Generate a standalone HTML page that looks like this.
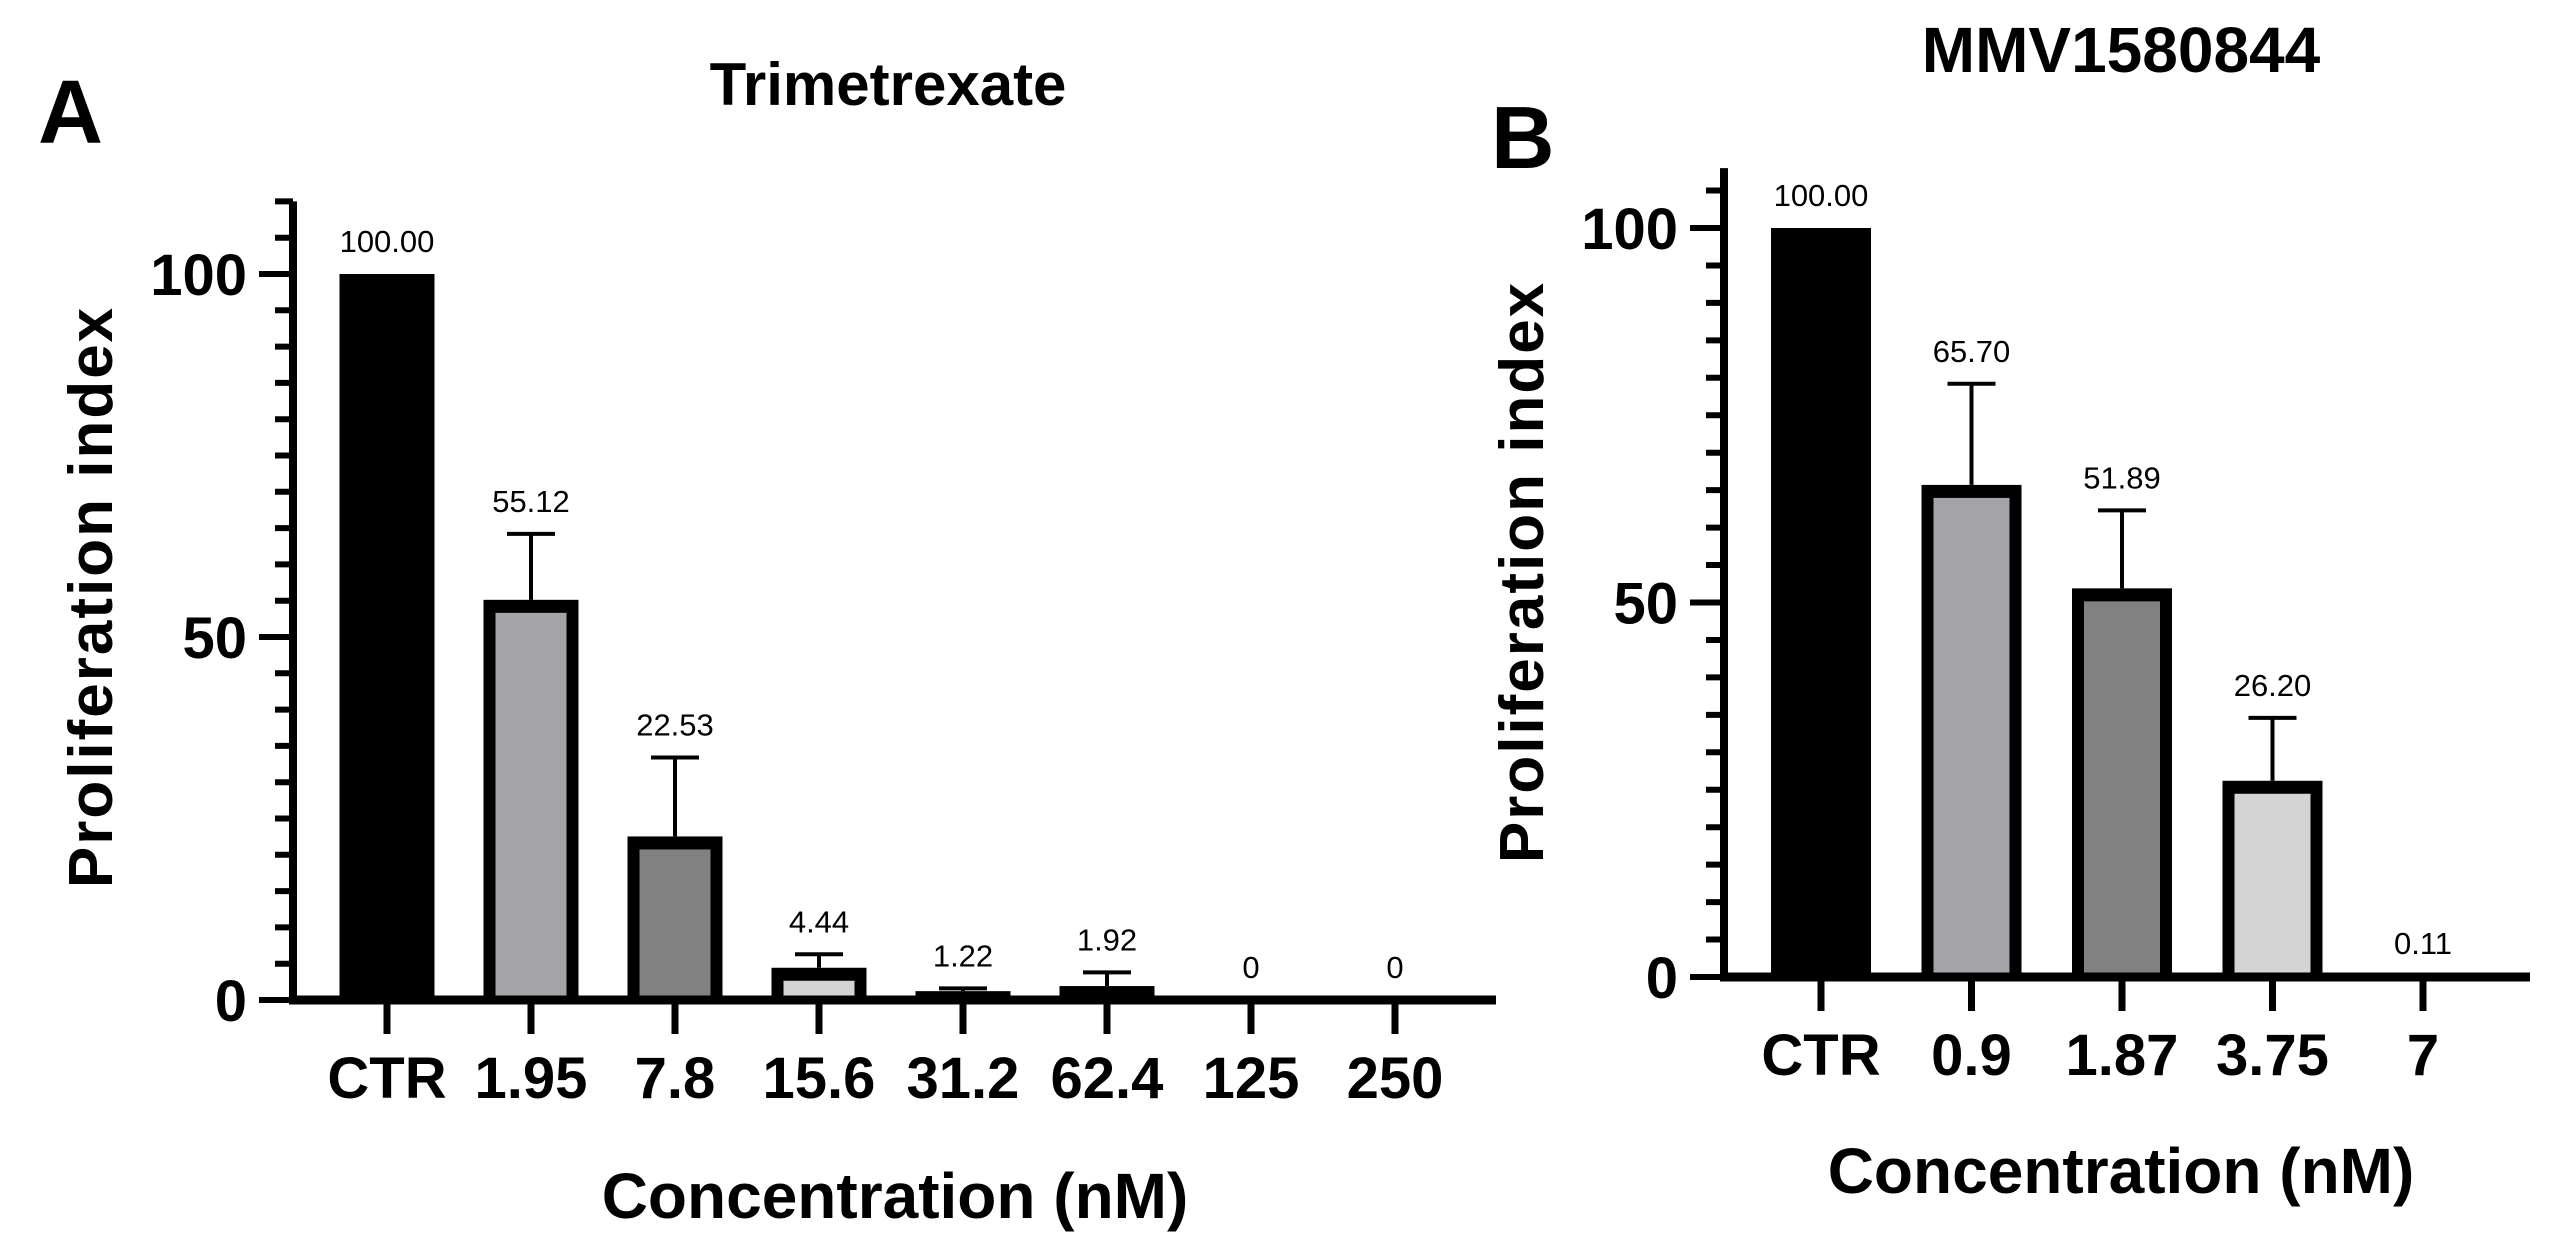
<!DOCTYPE html>
<html><head><meta charset="utf-8"><style>
html,body{margin:0;padding:0;background:#fff;}
svg{display:block;font-family:"Liberation Sans",Arial,sans-serif;}
</style></head><body>
<svg id="fig" width="2556" height="1252" viewBox="0 0 2556 1252">
<text x="38" y="143" font-size="90" font-weight="bold">A</text>
<text x="888" y="105" font-size="60" font-weight="bold" text-anchor="middle">Trimetrexate</text>
<text x="1491" y="168" font-size="88" font-weight="bold">B</text>
<text x="2121" y="72" font-size="64" font-weight="bold" text-anchor="middle">MMV1580844</text>
<g id="chartA"></g>
<g id="chartB"></g>
</svg>
<script>
const catsA = ["CTR","1.95","7.8","15.6","31.2","62.4","125","250"];
const valsA = [100, 55.12, 22.53, 4.44, 1.22, 1.92, 0, 0];
const errA = [0, 64.2, 33.4, 6.3, 1.6, 3.8, 0, 0];
const labelsA = ["100.00","55.12","22.53","4.44","1.22","1.92","0","0"];
const fillsA = ["#000","#a4a3a8","#818181","#d4d4d4","#000","#000","#000","#000"];
const catsB = ["CTR","0.9","1.87","3.75","7"];
const valsB = [100, 65.70, 51.89, 26.20, 0.11];
const errB = [0, 79.2, 62.3, 34.6, 0.11];
const labelsB = ["100.00","65.70","51.89","26.20","0.11"];
const fillsB = ["#000","#a4a3a8","#818181","#d4d4d4","#000"];
const yTicks = [0, 50, 100];

const NS = "http://www.w3.org/2000/svg";
function mk(parent, tag, attrs){
  const e = document.createElementNS(NS, tag);
  for (const k in attrs) e.setAttribute(k, attrs[k]);
  parent.appendChild(e);
  return e;
}
function draw(g, cfg, cats, vals, errs, labels, fills){
  const y = v => cfg.y0 - v * (cfg.y0 - cfg.y100) / 100;
  const x = i => cfg.x0 + i * cfg.step;
  // bars
  cats.forEach((c, i) => {
    const top = y(vals[i]), h = cfg.y0 - top, cx = x(i), w = cfg.bw;
    const outer = mk(g, "rect", {x: cx - w/2, y: top, width: w, height: Math.max(h, 0), fill: "#000"});
    
    
    if (fills[i] !== "#000" && h > 26) {
      const inner = mk(g, "rect", {x: cx - w/2 + 12, y: top + 13, width: w - 24, height: h - 13, fill: fills[i]});
      
      
    }
    let topMost = top;
    if (errs[i] > vals[i]) {
      const ey = y(errs[i]);
      const el = mk(g, "path", {d: `M${cx} ${top} V${ey} M${cx - 24} ${ey} H${cx + 24}`, stroke: "#000", "stroke-width": 4, fill: "none"});
      
      
      topMost = ey;
    }
    const t = mk(g, "text", {x: cx, y: topMost - 22, "font-size": 31, "text-anchor": "middle"});
    t.textContent = labels[i];
    
    
    // x tick
    const tk = mk(g, "line", {x1: cx, x2: cx, y1: cfg.y0, y2: cfg.y0 + 34, stroke: "#000", "stroke-width": 7});
    
    
    const tl = mk(g, "text", {x: cx, y: cfg.y0 + 98, "font-size": 58, "font-weight": "bold", "text-anchor": "middle"});
    tl.textContent = c;
    
    
  });
  // y axis
  const ya = mk(g, "line", {x1: cfg.ax, x2: cfg.ax, y1: y(cfg.ymax), y2: cfg.y0 + 4, stroke: "#000", "stroke-width": 8});
  
  
  for (let v = 0; v <= cfg.ymax; v += 5) {
    const major = yTicks.includes(v);
    const ln = mk(g, "line", {x1: cfg.ax - (major ? 34 : 18), x2: cfg.ax, y1: y(v), y2: y(v), stroke: "#000", "stroke-width": 6});
    
    
  }
  yTicks.forEach(v => {
    const t = mk(g, "text", {x: cfg.ax - 46, y: y(v) + 21, "font-size": 58, "font-weight": "bold", "text-anchor": "end"});
    t.textContent = v;
    
    
  });
  // x axis
  const xa = mk(g, "line", {x1: cfg.ax - 4, x2: cfg.xend, y1: cfg.y0, y2: cfg.y0, stroke: "#000", "stroke-width": 9});
  
  
  const xt = mk(g, "text", {x: cfg.xtx, y: cfg.xty, "font-size": 64, "font-weight": "bold", "text-anchor": "middle"});
  xt.textContent = "Concentration (nM)";
  
  
  const yt = mk(g, "text", {x: 0, y: 0, "font-size": 62, "font-weight": "bold", "text-anchor": "middle", "letter-spacing": 2, transform: `translate(${cfg.ytx},${cfg.yty}) rotate(-90)`});
  yt.textContent = "Proliferation index";
  
  
}
draw(document.getElementById("chartA"),
  {y0: 1000, y100: 274, x0: 387, step: 144, bw: 95, ax: 293, ymax: 110, xend: 1496, xtx: 895, xty: 1218, ytx: 112, yty: 597},
  catsA, valsA, errA, labelsA, fillsA);
draw(document.getElementById("chartB"),
  {y0: 977, y100: 228, x0: 1821, step: 150.5, bw: 100, ax: 1724, ymax: 108, xend: 2530, xtx: 2121, xty: 1193, ytx: 1543, yty: 572},
  catsB, valsB, errB, labelsB, fillsB);
</script>
</body></html>
